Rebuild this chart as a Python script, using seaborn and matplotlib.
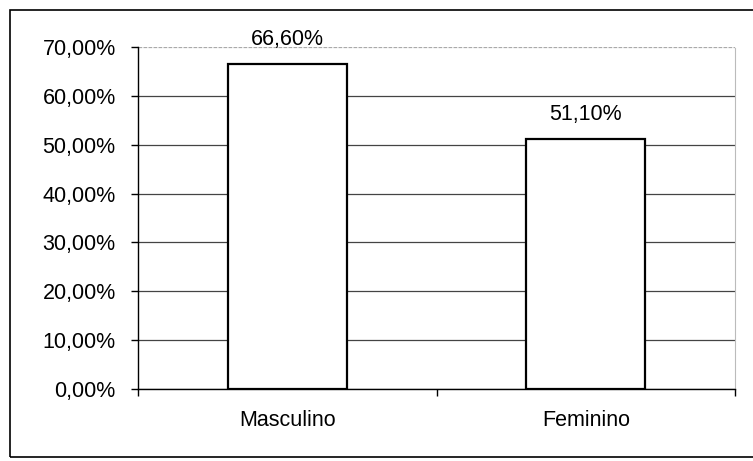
'''
Bar chart of percentage by sex (Masculino / Feminino).
'''
import matplotlib
matplotlib.use('Agg')
import matplotlib.pyplot as plt
import seaborn as sns
from matplotlib.patches import Rectangle
from matplotlib.ticker import FuncFormatter, FixedLocator

categories = ['Masculino', 'Feminino']
values = [66.6, 51.1]
labels = ['66,60%', '51,10%']

sns.set_theme(style='white')
plt.rcParams['font.family'] = ['Liberation Sans', 'DejaVu Sans']

fig = plt.figure(figsize=(7.53, 4.61), dpi=100)
ax = fig.add_axes([138 / 753, 1 - 389 / 461, (735 - 138) / 753, (389 - 47) / 461])

sns.barplot(x=categories, y=values, color='white', edgecolor='black',
            linewidth=1.6, width=0.4, ax=ax, saturation=1)

ax.set_xlim(-0.5, 1.5)
ax.set_ylim(0, 70)
ax.set_yticks(range(0, 71, 10))
ax.yaxis.set_major_formatter(FuncFormatter(lambda v, _: f'{v:.2f}%'.replace('.', ',')))
ax.grid(axis='y', color='#444444', linewidth=0.9)
ax.set_axisbelow(True)
ax.get_ygridlines()[-1].set_color('#aaaaaa')
ax.get_ygridlines()[-1].set_linestyle((0, (3, 1)))

ax.spines['top'].set_visible(False)
ax.spines['right'].set_color('#bbbbbb')
ax.spines['right'].set_linestyle((0, (3, 1)))
ax.spines['right'].set_linewidth(0.8)
for s in ['left', 'bottom']:
    ax.spines[s].set_color('black')
    ax.spines[s].set_linewidth(1.0)

ax.tick_params(axis='y', which='major', direction='out', length=5, width=1,
               color='black', left=True, labelsize=15.5, pad=11, labelcolor='black')
ax.tick_params(axis='x', which='major', length=0, labelsize=15.5, pad=15,
               labelcolor='black')
ax.xaxis.set_minor_locator(FixedLocator([-0.5, 0.5, 1.5]))
ax.tick_params(axis='x', which='minor', direction='out', length=5, width=1,
               color='black', bottom=True)

for i, (v, t) in enumerate(zip(values, labels)):
    ax.annotate(t, (i, v), xytext=(0, 10), textcoords='offset points',
                ha='center', va='bottom', fontsize=15.5, color='black')

fig.add_artist(Rectangle((10 / 753, 4 / 461), 1.2, 447 / 461,
                         transform=fig.transFigure, fill=False,
                         edgecolor='black', linewidth=1.2))

fig.savefig('out.png', dpi=100, facecolor='white')
